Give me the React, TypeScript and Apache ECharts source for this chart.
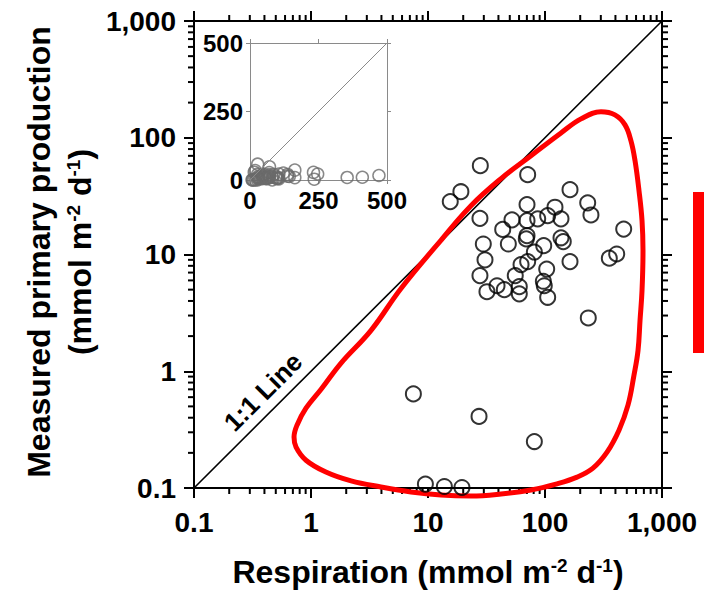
import React, { useEffect, useRef } from "react";
import * as echarts from "echarts";

// ---- data ----
const respiration = [28.0, 71.1, 19.1, 15.5, 163.6, 231.7, 247, 70.2, 121.7, 105.4, 137, 86.6, 70.2, 52.2, 27.8, 43.5, 470.6, 70.2, 69.2, 137, 143.3, 29.7, 48.6, 97.5, 81.1, 410, 354.6, 30.7, 71.1, 62.4, 163.6, 103.4, 55.7, 27.8, 96.8, 38.9, 60.3, 98.6, 31.9, 44.9, 60.3, 105.4, 234.4, 7.5, 27.3, 81.1, 9.5, 13.8, 19.5];
const production = [57.7, 48.3, 34.5, 28.4, 35.9, 27.7, 21.8, 26.8, 25.4, 21.5, 20.2, 20.2, 19.5, 19.8, 20.4, 16.4, 16.5, 14.5, 13.6, 13.9, 12.9, 12.3, 12.3, 11.9, 10.5, 10.1, 9.3, 9.0, 8.7, 8.2, 8.7, 7.5, 6.6, 6.6, 5.9, 5.4, 5.3, 5.4, 4.8, 5.0, 4.6, 4.3, 2.86, 0.64, 0.41, 0.25, 0.108, 0.103, 0.101];

// red envelope drawn around the data (data coordinates)
const envelopeX = [12.9, 23.3, 42.1, 75.9, 137, 203, 301, 396, 483, 543, 588, 636, 675, 688, 675, 649, 624, 576, 512, 429, 339, 257, 188, 124, 75.9, 42.1, 23.3, 12.9, 7.16, 3.96, 2.2, 1.34, 0.906, 0.745, 0.716, 0.759, 0.906, 1.22, 1.8, 3.26, 5.88, 12.9];
const envelopeY = [13.2, 26.2, 44.7, 70.2, 110, 145, 167, 157, 129, 94, 63.6, 35.2, 19.5, 10.8, 4.92, 2.73, 1.51, 0.925, 0.512, 0.313, 0.203, 0.148, 0.124, 0.108, 0.0961, 0.0889, 0.0855, 0.0871, 0.0925, 0.102, 0.115, 0.137, 0.173, 0.224, 0.273, 0.345, 0.483, 0.701, 1.17, 2.24, 5.12, 13.2];

const oneToOne = [0.1, 1000];
const insetOneToOne = [0, 500];

const logTickLabels = ["0.1", "1", "10", "100", "1,000"];
const minorTicks = [0.2, 0.3, 0.4, 0.5, 0.6, 0.7, 0.8, 0.9, 2, 3, 4, 5, 6, 7, 8, 9, 20, 30, 40, 50, 60, 70, 80, 90, 200, 300, 400, 500, 600, 700, 800, 900];
const insetTicks = [0, 250, 500];

const FONT = "'Liberation Sans', Arial, Helvetica, sans-serif";

function logLabel(v: number) {
  const i = Math.round(Math.log10(v)) + 1;
  return logTickLabels[i] ?? "";
}

export default function App() {
  const ref = useRef<HTMLDivElement>(null);

  useEffect(() => {
    if (!ref.current) return;
    document.body.style.margin = "0";
    document.body.style.overflow = "hidden";
    const chart = echarts.init(ref.current, undefined, { renderer: "svg" });

    const mainAxisCommon = (extra: any) => ({
      type: "log",
      logBase: 10,
      gridIndex: 0,
      min: 0.1,
      max: 1000,
      axisLine: { show: true, onZero: false, lineStyle: { color: "#000", width: 2 } },
      axisTick: { show: true, length: 10, lineStyle: { color: "#000", width: 2 } },
      splitLine: { show: false },
      minorTick: { show: false },
      ...extra,
    });

    const mainLabel = (margin: number) => ({
      show: true,
      margin,
      fontSize: 28,
      fontWeight: "bold",
      fontFamily: FONT,
      color: "#000",
      showMinLabel: true,
      showMaxLabel: true,
      formatter: (v: number) => logLabel(v),
    });

    const insetAxisCommon = (extra: any) => ({
      type: "value",
      gridIndex: 1,
      min: insetTicks[0],
      max: insetTicks[2],
      interval: insetTicks[1],
      axisLine: { show: true, onZero: false, lineStyle: { color: "#8a8a8a", width: 1 } },
      axisTick: { show: true, length: 4, lineStyle: { color: "#8a8a8a", width: 1 } },
      splitLine: { show: false },
      ...extra,
    });

    const insetLabel = (margin: number) => ({
      show: true,
      margin,
      fontSize: 24,
      fontWeight: "bold",
      fontFamily: FONT,
      color: "#000",
      showMinLabel: true,
      showMaxLabel: true,
    });

    const pts = respiration.map((x, i) => [x, production[i]]);

    const option: any = {
      animation: false,
      backgroundColor: "#fff",
      grid: [
        { left: 194, top: 21, width: 468, height: 467 },
        { left: 250, top: 43, width: 137, height: 137 },
      ],
      xAxis: [
        mainAxisCommon({ position: "bottom", axisLabel: mainLabel(20) }),
        mainAxisCommon({ position: "top", axisLabel: { show: false } }),
        insetAxisCommon({ position: "bottom", axisLabel: insetLabel(8) }),
        insetAxisCommon({ position: "top", axisLabel: { show: false } }),
      ],
      yAxis: [
        mainAxisCommon({ position: "left", axisLabel: mainLabel(18) }),
        mainAxisCommon({ position: "right", axisLabel: { show: false } }),
        insetAxisCommon({ position: "left", axisLabel: insetLabel(7) }),
        insetAxisCommon({ position: "right", axisLabel: { show: false } }),
      ],
      series: [
        {
          type: "custom",
          xAxisIndex: 0,
          yAxisIndex: 0,
          clip: false,
          silent: true,
          data: minorTicks.map((v) => [v, v]),
          renderItem: (params: any, api: any) => {
            const cs = params.coordSys;
            const p = api.coord([api.value(0), api.value(1)]);
            const st = { stroke: "#000", lineWidth: 2 };
            const bottom = cs.y + cs.height;
            const right = cs.x + cs.width;
            const L = 6;
            return {
              type: "group",
              children: [
                { type: "line", shape: { x1: p[0], y1: bottom, x2: p[0], y2: bottom + L }, style: st },
                { type: "line", shape: { x1: p[0], y1: cs.y, x2: p[0], y2: cs.y - L }, style: st },
                { type: "line", shape: { x1: cs.x, y1: p[1], x2: cs.x - L, y2: p[1] }, style: st },
                { type: "line", shape: { x1: right, y1: p[1], x2: right + L, y2: p[1] }, style: st },
              ],
            };
          },
        },
        {
          type: "line",
          xAxisIndex: 0,
          yAxisIndex: 0,
          data: oneToOne.map((v) => [v, v]),
          symbol: "none",
          lineStyle: { color: "#000", width: 1.6 },
          silent: true,
          z: 2,
        },
        {
          type: "line",
          xAxisIndex: 0,
          yAxisIndex: 0,
          data: envelopeX.map((x, i) => [x, envelopeY[i]]),
          symbol: "none",
          smooth: 0.4,
          clip: false,
          lineStyle: { color: "#ff0000", width: 5 },
          silent: true,
          z: 3,
        },
        {
          type: "scatter",
          xAxisIndex: 0,
          yAxisIndex: 0,
          data: pts,
          symbol: "circle",
          symbolSize: 15,
          clip: false,
          itemStyle: { color: "rgba(0,0,0,0)", borderColor: "#000", borderWidth: 2 },
          z: 4,
        },
        {
          type: "line",
          xAxisIndex: 2,
          yAxisIndex: 2,
          data: insetOneToOne.map((v) => [v, v]),
          symbol: "none",
          lineStyle: { color: "#8a8a8a", width: 1 },
          silent: true,
        },
        {
          type: "scatter",
          xAxisIndex: 2,
          yAxisIndex: 2,
          data: pts,
          symbol: "circle",
          symbolSize: 12,
          clip: false,
          itemStyle: { color: "rgba(0,0,0,0)", borderColor: "#6a6a6a", borderWidth: 1.5 },
        },
      ],
      graphic: [
        {
          type: "text",
          x: 428,
          y: 572,
          style: {
            text: "{m|Respiration (mmol m}{s|-2}{m| d}{s|-1}{m|)}",
            align: "center",
            verticalAlign: "middle",
            rich: {
              m: { fontSize: 32, fontWeight: "bold", fontFamily: FONT, fill: "#000", lineHeight: 32 },
              s: { fontSize: 19, fontWeight: "bold", fontFamily: FONT, fill: "#000", lineHeight: 19, verticalAlign: "top" },
            },
          },
        },
        {
          type: "text",
          x: 39,
          y: 252,
          rotation: Math.PI / 2,
          style: {
            text: "Measured primary production",
            align: "center",
            verticalAlign: "middle",
            fontSize: 32,
            fontWeight: "bold",
            fontFamily: FONT,
            fill: "#000",
          },
        },
        {
          type: "text",
          x: 80,
          y: 252,
          rotation: Math.PI / 2,
          style: {
            text: "{m|(mmol m}{s|-2}{m| d}{s|-1}{m|)}",
            align: "center",
            verticalAlign: "middle",
            rich: {
              m: { fontSize: 32, fontWeight: "bold", fontFamily: FONT, fill: "#000", lineHeight: 32 },
              s: { fontSize: 19, fontWeight: "bold", fontFamily: FONT, fill: "#000", lineHeight: 19, verticalAlign: "top" },
            },
          },
        },
        {
          type: "text",
          x: 263,
          y: 392,
          rotation: Math.PI / 4,
          style: {
            text: "1:1 Line",
            align: "center",
            verticalAlign: "middle",
            fontSize: 26,
            fontWeight: "bold",
            fontFamily: FONT,
            fill: "#000",
          },
        },
        {
          type: "rect",
          left: 693,
          top: 192,
          shape: { x: 0, y: 0, width: 11, height: 161 },
          style: { fill: "#ff0000" },
        },
      ],
    };

    chart.setOption(option);
    return () => chart.dispose();
  }, []);

  return (
    <div
      ref={ref}
      style={{ position: "absolute", left: 0, top: 0, width: 704, height: 594 }}
    />
  );
}
